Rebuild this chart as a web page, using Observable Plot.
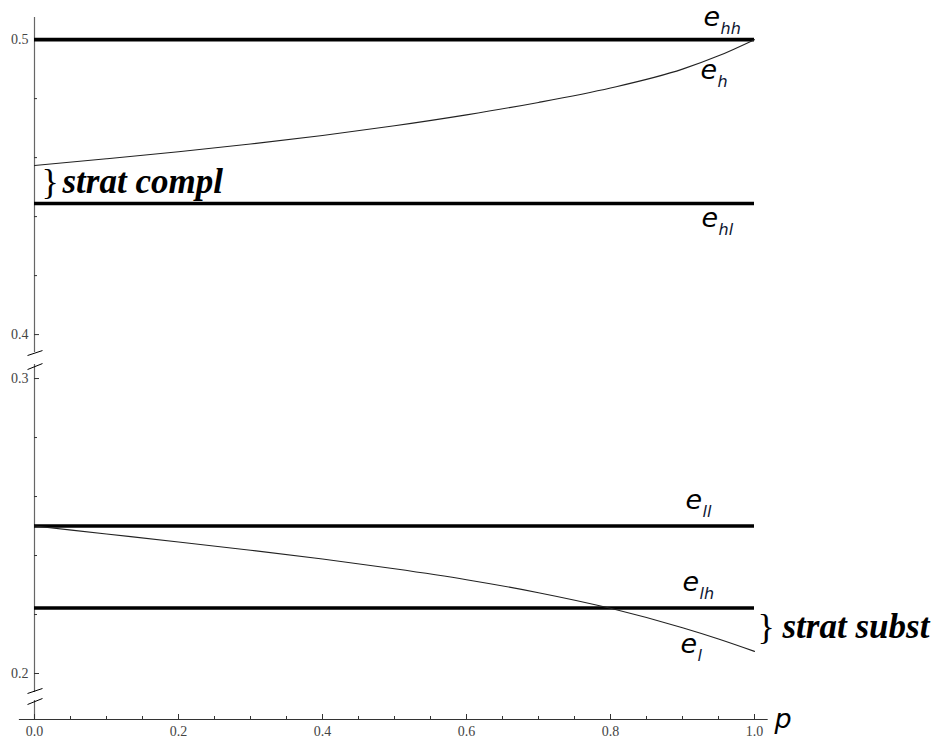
<!DOCTYPE html>
<html>
<head>
<meta charset="utf-8">
<script src="https://cdn.jsdelivr.net/npm/d3@7"></script>
<script src="https://cdn.jsdelivr.net/npm/@observablehq/plot@0.6"></script>
<style>
  body { margin: 0; background: #fff; }
  #chart svg { display: block; }
</style>
</head>
<body>
<div id="chart"></div>
<script>
// ---------- data ----------
const P    = [0, 0.1, 0.2, 0.3, 0.4, 0.5, 0.6, 0.7, 0.8, 0.9, 0.95, 1.0];
const E_H  = [0.4573, 0.4596, 0.4620, 0.4646, 0.4675, 0.4708, 0.4745, 0.4787, 0.4836, 0.4900, 0.4945, 0.5];
const E_L  = [0.25, 0.2473, 0.2446, 0.2418, 0.2388, 0.2355, 0.2318, 0.2274, 0.2221, 0.2155, 0.2117, 0.2075];
const FLAT_NAMES  = ["hh", "hl", "ll", "lh"];
const FLAT_VALUES = [0.5, 4 / 9, 0.25, 2 / 9];
const X_MAJOR = [0, 0.2, 0.4, 0.6, 0.8, 1.0];
const X_MINOR = [0.05, 0.1, 0.15, 0.25, 0.3, 0.35, 0.45, 0.5, 0.55, 0.65, 0.7, 0.75, 0.85, 0.9, 0.95];
const Y_MAJOR = [0.2, 0.3, 0.4, 0.5];
const Y_MINOR = [0.22, 0.24, 0.26, 0.28, 0.42, 0.44, 0.46, 0.48];
const LABEL_SUBS = ["hh", "h", "hl", "ll", "lh", "l"];
const LABEL_AT   = [0.5, 0.5, 4 / 9, 0.25, 2 / 9, 0.2075];

// ---------- broken y axis (0.3 .. 0.4 removed) ----------
const CUT_LO = 0.3, CUT_HI = 0.4, GAP = 0.0149;
const brk = v => v >= 0.35 ? v - (CUT_HI - CUT_LO) + GAP : v;
const unbrk = t => t > CUT_LO + GAP / 2 ? t + (CUT_HI - CUT_LO) - GAP : t;
const Y_BOTTOM = 0.18441, Y_TOP = 0.5075;
const fmt = d3.format(".1f");

// ---------- layout (offsets in px) ----------
const SERIF = "'Liberation Serif', 'Times New Roman', serif";
const SANS = "'DejaVu Sans', sans-serif";
const labelOffsets = [
  {dx: -51, dy: -14}, {dx: -54, dy: 39}, {dx: -53, dy: 24},
  {dx: -69, dy: -17.5}, {dx: -72, dy: -17}, {dx: -74, dy: 2}
];

const curveH = P.map((p, i) => ({p, v: E_H[i]}));
const curveL = P.map((p, i) => ({p, v: E_L[i]}));

// axis segments and break marks (real values)
const axisSegments = [[0.3939, Y_TOP], [0.19356, 0.30475], [Y_BOTTOM, 0.19085]];
const breakMarks = [
  [0.3078, 0.30949], [0.30305, 0.30508],
  [0.19322, 0.19492], [0.18949, 0.19153]
];

const labelMarks = LABEL_SUBS.flatMap((s, i) => {
  const d = [{p: 1, v: LABEL_AT[i], s}];
  const o = labelOffsets[i];
  return [
    Plot.text(d, {x: "p", y: d => brk(d.v), text: () => "e", textAnchor: "start", lineAnchor: "bottom",
      dx: o.dx, dy: o.dy, fontSize: 27, fontStyle: "italic", fontFamily: SANS, fill: "#000"}),
    Plot.text(d, {x: "p", y: d => brk(d.v), text: "s", textAnchor: "start", lineAnchor: "bottom",
      dx: o.dx + 17, dy: o.dy + 8, fontSize: 16, fontStyle: "italic", fontFamily: SANS, fill: "#0d1530"})
  ];
});

const complMid = (E_H[0] + FLAT_VALUES[1]) / 2;
const substMid = (FLAT_VALUES[3] + E_L[E_L.length - 1]) / 2;

const chart = Plot.plot({
  width: 940,
  height: 744,
  marginLeft: 34,
  marginRight: 186,
  marginTop: 17,
  marginBottom: 25,
  x: {domain: [0, 1], axis: null, label: null},
  y: {domain: [Y_BOTTOM, brk(Y_TOP)], axis: null, label: null},
  style: {background: "#fff", overflow: "visible"},
  marks: [
    // y axis line segments
    Plot.ruleX(axisSegments, {x: () => 0, y1: d => brk(d[0]), y2: d => brk(d[1]), stroke: "#666", strokeWidth: 1.2}),
    // break marks
    Plot.link(breakMarks, {x1: () => -0.0097, x2: () => 0.0111, y1: d => d[0], y2: d => d[1], stroke: "#000", strokeWidth: 1}),
    // x axis line
    Plot.ruleY([Y_BOTTOM], {x1: -0.021, x2: 1.019, stroke: "#333", strokeWidth: 1.2}),
    // axes ticks & labels
    Plot.axisX(X_MAJOR, {label: null, tickSize: -5, tickPadding: 12, tickFormat: fmt, fontSize: 14, fontFamily: SERIF, color: "#444", stroke: "#333"}),
    Plot.axisX(X_MINOR, {label: null, tickSize: -3, tickPadding: 0, tickFormat: () => "", stroke: "#333"}),
    Plot.axisY(Y_MAJOR.map(brk), {label: null, tickSize: -5, tickPadding: 11, tickFormat: t => fmt(unbrk(t)), fontSize: 14, fontFamily: SERIF, color: "#444", stroke: "#333"}),
    Plot.axisY(Y_MINOR.map(brk), {label: null, tickSize: -3, tickPadding: 0, tickFormat: () => "", stroke: "#333"}),
    // flat lines
    Plot.ruleY(FLAT_VALUES, {y: d => brk(d), x1: 0, x2: 1, stroke: "#000", strokeWidth: 3.6}),
    // curves
    Plot.line(curveH, {x: "p", y: d => brk(d.v), curve: "monotone-x", stroke: "#222", strokeWidth: 1.1}),
    Plot.line(curveL, {x: "p", y: d => brk(d.v), curve: "monotone-x", stroke: "#222", strokeWidth: 1.1}),
    // labels
    ...labelMarks,
    // p axis label
    Plot.text([{p: 1, v: Y_BOTTOM}], {x: "p", y: "v", text: () => "p", textAnchor: "start", lineAnchor: "bottom",
      dx: 20, dy: 8, fontSize: 27, fontStyle: "italic", fontFamily: SANS, fill: "#000"}),
    // strategic complements / substitutes
    Plot.text([{p: 0, v: complMid}], {x: "p", y: d => brk(d.v), text: () => "}", textAnchor: "start", lineAnchor: "middle",
      dx: 7, dy: -2, fontSize: 36, fontFamily: SERIF, fill: "#000"}),
    Plot.text([{p: 0, v: complMid}], {x: "p", y: d => brk(d.v), text: () => "strat compl", textAnchor: "start", lineAnchor: "bottom",
      dx: 28, dy: 8, fontSize: 35, fontStyle: "italic", fontWeight: "bold", fontFamily: SERIF, fill: "#000"}),
    Plot.text([{p: 1, v: substMid}], {x: "p", y: d => brk(d.v), text: () => "}", textAnchor: "start", lineAnchor: "middle",
      dx: 3, dy: -2, fontSize: 36, fontFamily: SERIF, fill: "#000"}),
    Plot.text([{p: 1, v: substMid}], {x: "p", y: d => brk(d.v), text: () => "strat subst", textAnchor: "start", lineAnchor: "bottom",
      dx: 28, dy: 8, fontSize: 35, fontStyle: "italic", fontWeight: "bold", fontFamily: SERIF, fill: "#000"})
  ]
});
document.getElementById("chart").appendChild(chart);
</script>
</body>
</html>
